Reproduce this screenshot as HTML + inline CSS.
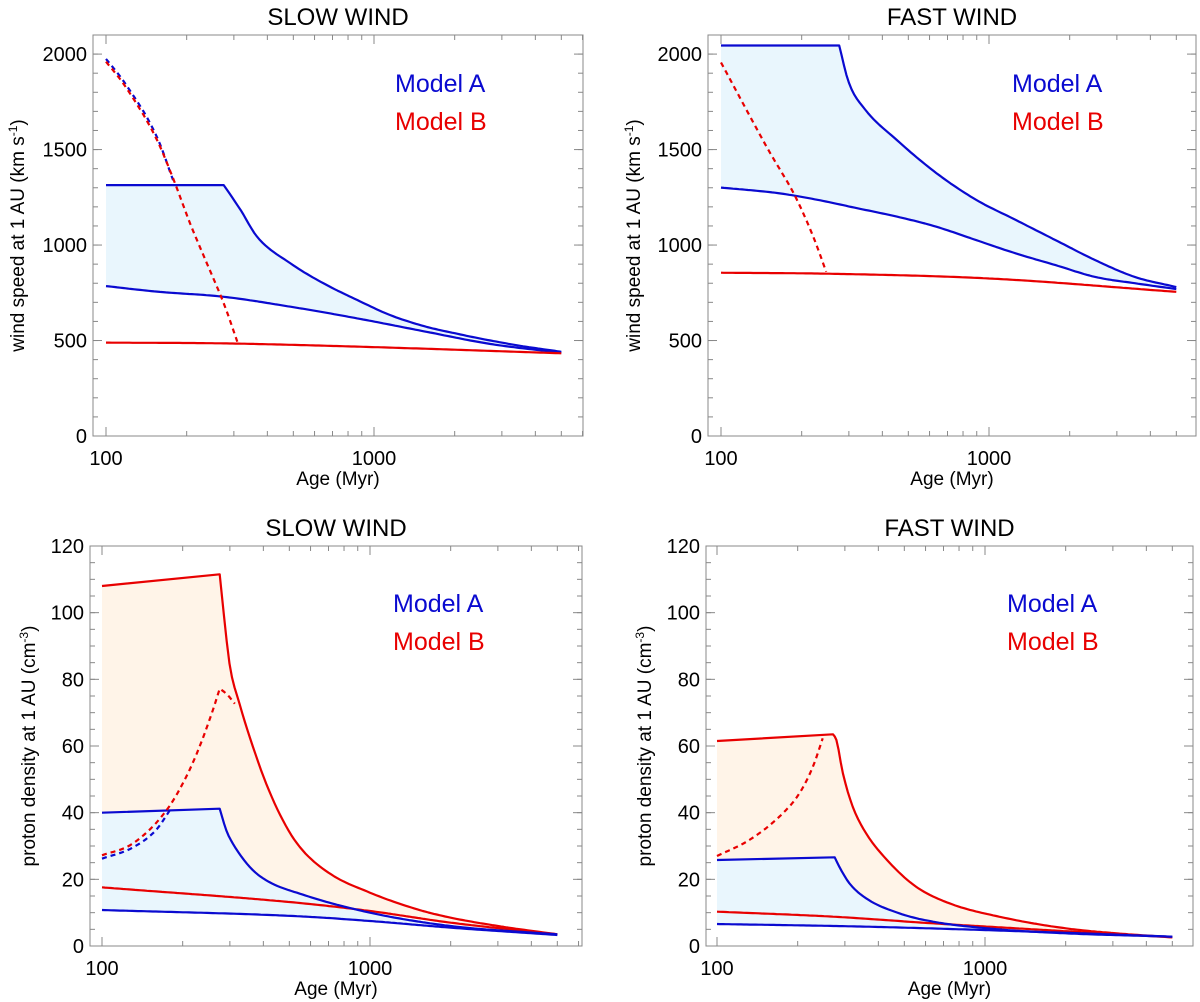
<!DOCTYPE html>
<html><head><meta charset="utf-8"><style>
html,body{margin:0;padding:0;background:#fff;}
svg{display:block;font-family:"Liberation Sans",Arial,sans-serif;}
</style></head><body>
<svg id="fig" width="1200" height="1002" viewBox="0 0 1200 1002"></svg>
<script>
// ---- data (age in Myr) ----
// Top-left: slow wind speed
const tlAUpperAge=[100,275,318,366,488,649,866,1150,1540,2050,2720,3600,5000];
const tlAUpperVal=[1314,1314,1183,1044,904,799,712,633,575,535,500,470,441];
const tlALowerAge=[100,155,275,488,866,1540,2720,5000];
const tlALowerVal=[785,756,729,677,616,548,482,436];
const tlBSolidAge=[100,275,866,5000];
const tlBSolidVal=[489,485,468,433];
const tlBDashAge=[100,116,155,179,206,238,275,309];
const tlBDashVal=[1960,1846,1550,1340,1113,904,695,494];
const tlADashAge=[100,116,155,178];
const tlADashVal=[1975,1860,1565,1340];
// Top-right: fast wind speed
const trAUpperAge=[100,276,300,345,453,636,895,1260,1770,2490,3500,5000];
const trAUpperVal=[2045,2045,1850,1710,1550,1377,1237,1131,1026,921,833,780];
const trALowerAge=[100,163,229,322,453,636,895,1260,1770,2490,3500,5000];
const trALowerVal=[1301,1272,1237,1193,1149,1096,1026,956,895,833,800,770];
const trBSolidAge=[100,247,1000,5000];
const trBSolidVal=[855,850,825,755];
const trBDashAge=[100,150,190,220,247];
const trBDashVal=[1956,1500,1250,1050,860];
// Bottom-left: slow wind density
const blBUpperAge=[100,275,278,299,326,366,410,473,547,700,1000,1500,2000,3000,5000];
const blBUpperVal=[108,111.5,107.7,84.7,72.7,59.7,48.7,37.7,29.7,22,16,11,8.5,6,3.5];
const blBLowerAge=[100,547,1000,2000,5000];
const blBLowerVal=[17.6,12.9,10.5,7,3.5];
const blAUpperAge=[100,275,291,308,356,410,547,1000,2000,5000];
const blAUpperVal=[40,41.2,34.7,30.7,23.7,19.7,15.7,10,6,3.5];
const blALowerAge=[100,547,1000,2000,5000];
const blALowerVal=[10.8,8.9,7.5,5.5,3.3];
const blBDashAge=[100,130,174,206,231,259,275,291,313];
const blBDashVal=[27.2,30.7,40.7,50.7,59.7,70.7,77.2,75.7,72.7];
const blADashAge=[100,130,160,179];
const blADashVal=[26.2,29.5,35,40.7];
// Bottom-right: fast wind density
const brBUpperAge=[100,271,279,295,321,360,431,553,737,1129,2000,3100,5000];
const brBUpperVal=[61.5,63.5,61.8,51.8,41.8,33.8,25.8,17.8,12.8,8.8,5.3,3.8,2.6];
const brBLowerAge=[100,271,640,1520,5000];
const brBLowerVal=[10.3,8.8,6.8,5,2.6];
const brAUpperAge=[100,275,286,312,360,479,640,1129,2000,5000];
const brAUpperVal=[25.8,26.6,23.8,18.8,14.3,9.8,7.3,5,3.8,2.8];
const brALowerAge=[100,360,1520,5000];
const brALowerVal=[6.6,5.8,4.3,2.8];
const brBDashAge=[100,132,176,203,228,248];
const brBDashVal=[27,31.8,39.8,45.8,53.8,62.3];
// tick labels
const speedTicks=[0,500,1000,1500,2000];
const densTicks=[0,20,40,60,80,100,120];
const ageMajor=[100,1000];
const ageMinor=[200,300,400,500,600,700,800,900,2000,3000,4000,5000,6000];

const NS="http://www.w3.org/2000/svg";
const svg=document.getElementById('fig');
const BLUE="#0a0ad0", RED="#e80000", BFILL="#e9f6fd", OFILL="#fff4e8";
function mk(tag,attrs,parent){const e=document.createElementNS(NS,tag);for(const k in attrs)e.setAttribute(k,attrs[k]);(parent||svg).appendChild(e);return e;}

// monotone cubic resampling of a pixel-space polyline, split at break indices
function smoothPts(P,brk){
  const out=[];
  const cuts=[0].concat((brk||[]).filter(b=>b>0&&b<P.length-1)).concat([P.length-1]);
  for(let c=0;c<cuts.length-1;c++){
    const S=P.slice(cuts[c],cuts[c+1]+1);
    const n=S.length;
    if(n<3){S.forEach((p,i)=>{if(!(c>0&&i===0))out.push(p);});continue;}
    const d=[],m=[];
    for(let i=0;i<n-1;i++)d.push((S[i+1][1]-S[i][1])/(S[i+1][0]-S[i][0]||1e-6));
    m[0]=d[0];m[n-1]=d[n-2];
    for(let i=1;i<n-1;i++)m[i]=(d[i-1]*d[i]<=0)?0:(d[i-1]+d[i])/2;
    for(let i=0;i<n-1;i++){
      if(d[i]===0){m[i]=0;m[i+1]=0;continue;}
      const a=m[i]/d[i],b=m[i+1]/d[i],s=a*a+b*b;
      if(s>9){const t=3/Math.sqrt(s);m[i]=t*a*d[i];m[i+1]=t*b*d[i];}
    }
    for(let i=0;i<n-1;i++){
      const x0=S[i][0],x1=S[i+1][0],y0=S[i][1],y1=S[i+1][1],h=x1-x0;
      const steps=Math.max(2,Math.ceil(Math.abs(h)/3));
      for(let k=(c>0||i>0)?1:0;k<=steps;k++){
        const t=k/steps,t2=t*t,t3=t2*t;
        const y=(2*t3-3*t2+1)*y0+(t3-2*t2+t)*h*m[i]+(-2*t3+3*t2)*y1+(t3-t2)*h*m[i+1];
        out.push([x0+h*t,y]);
      }
    }
  }
  return out;
}

function panel(p){
  const g=mk('g',{});
  
  
  const dec=268;
  const lx0=2-(p.x100-p.L)/dec, lx1=2+(p.R-p.x100)/dec;
  const xs=a=>p.L+(Math.log10(a)-lx0)/(lx1-lx0)*(p.R-p.L);
  const ys=v=>p.B-(v-p.ymin)/(p.ymax-p.ymin)*(p.B-p.T);
  const raw=(A,V)=>A.map((a,i)=>[xs(a),ys(V[i])]);
  const str=P=>P.map(q=>q[0].toFixed(1)+','+q[1].toFixed(1)).join(' ');
  p.fills.forEach(f=>{
    const U=smoothPts(raw(f.ua,f.uv),f.ub), Lw=smoothPts(raw(f.la,f.lv),f.lb);
    const poly=mk('polygon',{points:str(U.concat(Lw.reverse())),fill:f.c,stroke:'none'},g);
    
    
  });
  p.lines.forEach(l=>{
    const pl=mk('polyline',{points:str(smoothPts(raw(l.a,l.v),l.brk)),fill:'none',stroke:l.c,'stroke-width':2.2,'stroke-linejoin':'round','stroke-dasharray':l.dash?'5,4':'none'},g);
    
    
  });
  const fr=mk('rect',{x:p.L,y:p.T,width:p.R-p.L,height:p.B-p.T,fill:'none',stroke:'#888','stroke-width':1},g);
  
  
  const tk=mk('g',{stroke:'#888','stroke-width':1},g);
  
  
  function tick(x1,y1,x2,y2){mk('line',{x1,y1,x2,y2},tk);}
  ageMajor.forEach(a=>{const x=xs(a);tick(x,p.B,x,p.B-9);tick(x,p.T,x,p.T+9);
    const t=mk('text',{x:x,y:p.B+29,'text-anchor':'middle','font-size':20,fill:'#000'},g);t.textContent=a;
    
    });
  ageMinor.forEach(a=>{const x=xs(a);if(x>p.R)return;tick(x,p.B,x,p.B-5);tick(x,p.T,x,p.T+5);});
  p.ticks.forEach(v=>{const y=ys(v);tick(p.L,y,p.L+9,y);tick(p.R,y,p.R-9,y);
    const t=mk('text',{x:p.L-6,y:y+7,'text-anchor':'end','font-size':20,fill:'#000'},g);t.textContent=v;
    
    });
  for(let v=p.ymin;v<=p.ymax;v+=p.minor){const y=ys(v);tick(p.L,y,p.L+5,y);tick(p.R,y,p.R-5,y);}
  const cx=(p.L+p.R)/2;
  const tt=mk('text',{x:cx,y:p.T-10,'text-anchor':'middle','font-size':24,fill:'#000'},g);tt.textContent=p.title;
  
  
  const xt=mk('text',{x:cx,y:p.B+49,'text-anchor':'middle','font-size':19,fill:'#000'},g);xt.textContent='Age (Myr)';
  
  
  const cy=(p.T+p.B)/2;
  const yt=mk('text',{x:0,y:0,'text-anchor':'middle','font-size':19,fill:'#000',transform:`translate(${p.ylx},${cy}) rotate(-90)`},g);
  yt.innerHTML=p.ylab;
  
  
  const la=mk('text',{x:p.legX,y:p.legY,'font-size':25,fill:BLUE},g);la.textContent='Model A';
  
  
  const lb=mk('text',{x:p.legX,y:p.legY+38,'font-size':25,fill:RED},g);lb.textContent='Model B';
  
  
}
const spLab='wind speed at 1 AU (km s<tspan dy="-7" font-size="12">-1</tspan><tspan dy="7">)</tspan>';
const dnLab='proton density at 1 AU (cm<tspan dy="-7" font-size="12">-3</tspan><tspan dy="7">)</tspan>';

panel({name:'panel-slow-speed',title:'SLOW WIND',L:93,R:583,T:35,B:436,x100:106,ymin:0,ymax:2100,ticks:speedTicks,minor:100,ylab:spLab,ylx:24,legX:395,legY:92,
  fills:[{name:'model-a-band',ua:tlAUpperAge,uv:tlAUpperVal,ub:[1],la:tlALowerAge,lv:tlALowerVal,c:BFILL}],
  lines:[{name:'model-a-upper',a:tlAUpperAge,v:tlAUpperVal,brk:[1],c:BLUE},{name:'model-a-lower',a:tlALowerAge,v:tlALowerVal,c:BLUE},
    {name:'model-b-solid',a:tlBSolidAge,v:tlBSolidVal,c:RED},{name:'model-a-dashed',a:tlADashAge,v:tlADashVal,c:BLUE,dash:1},
    {name:'model-b-dashed',a:tlBDashAge,v:tlBDashVal,c:RED,dash:1}]});
panel({name:'panel-fast-speed',title:'FAST WIND',L:708,R:1196,T:35,B:436,x100:721,ymin:0,ymax:2100,ticks:speedTicks,minor:100,ylab:spLab,ylx:640,legX:1012,legY:92,
  fills:[{name:'model-a-band',ua:trAUpperAge,uv:trAUpperVal,ub:[1],la:trALowerAge,lv:trALowerVal,c:BFILL}],
  lines:[{name:'model-a-upper',a:trAUpperAge,v:trAUpperVal,brk:[1],c:BLUE},{name:'model-a-lower',a:trALowerAge,v:trALowerVal,c:BLUE},
    {name:'model-b-solid',a:trBSolidAge,v:trBSolidVal,c:RED},{name:'model-b-dashed',a:trBDashAge,v:trBDashVal,c:RED,dash:1}]});
panel({name:'panel-slow-density',title:'SLOW WIND',L:90,R:582,T:546,B:946,x100:102,ymin:0,ymax:120,ticks:densTicks,minor:5,ylab:dnLab,ylx:35,legX:393,legY:612,
  fills:[{name:'model-b-band',ua:blBUpperAge,uv:blBUpperVal,ub:[1,2],la:blBLowerAge,lv:blBLowerVal,c:OFILL},
         {name:'model-a-band',ua:blAUpperAge,uv:blAUpperVal,ub:[1],la:blALowerAge,lv:blALowerVal,c:BFILL}],
  lines:[{name:'model-b-upper',a:blBUpperAge,v:blBUpperVal,brk:[1,2],c:RED},{name:'model-b-lower',a:blBLowerAge,v:blBLowerVal,c:RED},
    {name:'model-a-upper',a:blAUpperAge,v:blAUpperVal,brk:[1],c:BLUE},{name:'model-a-lower',a:blALowerAge,v:blALowerVal,c:BLUE},
    {name:'model-a-dashed',a:blADashAge,v:blADashVal,c:BLUE,dash:1},{name:'model-b-dashed',a:blBDashAge,v:blBDashVal,brk:[6],c:RED,dash:1}]});
panel({name:'panel-fast-density',title:'FAST WIND',L:706,R:1193,T:546,B:946,x100:717,ymin:0,ymax:120,ticks:densTicks,minor:5,ylab:dnLab,ylx:651,legX:1007,legY:612,
  fills:[{name:'model-b-band',ua:brBUpperAge,uv:brBUpperVal,ub:[1],la:brBLowerAge,lv:brBLowerVal,c:OFILL},
         {name:'model-a-band',ua:brAUpperAge,uv:brAUpperVal,ub:[1],la:brALowerAge,lv:brALowerVal,c:BFILL}],
  lines:[{name:'model-b-upper',a:brBUpperAge,v:brBUpperVal,brk:[1],c:RED},{name:'model-b-lower',a:brBLowerAge,v:brBLowerVal,c:RED},
    {name:'model-a-upper',a:brAUpperAge,v:brAUpperVal,brk:[1],c:BLUE},{name:'model-a-lower',a:brALowerAge,v:brALowerVal,c:BLUE},
    {name:'model-b-dashed',a:brBDashAge,v:brBDashVal,c:RED,dash:1}]});
</script>
</body></html>
